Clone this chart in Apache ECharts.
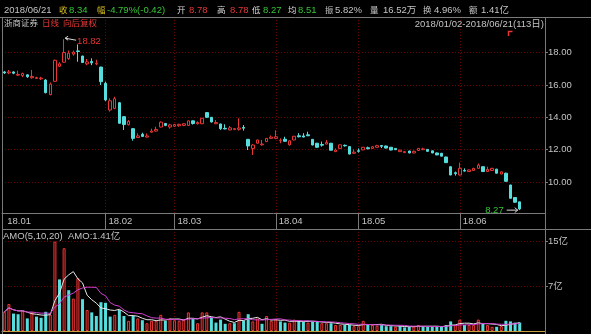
<!DOCTYPE html>
<html><head><meta charset="utf-8">
<script src="https://cdn.jsdelivr.net/npm/echarts@6/dist/echarts.min.js"></script>
<style>html,body{margin:0;padding:0;background:#000;}#c{width:591px;height:334px;}</style>
</head><body><div id="c"></div>
<script>
// ---- data ----
const dates = [
'2018-01-02','2018-01-03','2018-01-04','2018-01-05','2018-01-08','2018-01-09','2018-01-10','2018-01-11','2018-01-12','2018-01-15','2018-01-16','2018-01-17','2018-01-18','2018-01-19','2018-01-22','2018-01-23','2018-01-24','2018-01-25','2018-01-26','2018-01-29','2018-01-30','2018-01-31',
'2018-02-01','2018-02-02','2018-02-05','2018-02-06','2018-02-07','2018-02-08','2018-02-09','2018-02-12','2018-02-13','2018-02-14','2018-02-22','2018-02-23','2018-02-26','2018-02-27','2018-02-28',
'2018-03-01','2018-03-02','2018-03-05','2018-03-06','2018-03-07','2018-03-08','2018-03-09','2018-03-12','2018-03-13','2018-03-14','2018-03-15','2018-03-16','2018-03-19','2018-03-20','2018-03-21','2018-03-22','2018-03-23','2018-03-26','2018-03-27','2018-03-28','2018-03-29','2018-03-30',
'2018-04-02','2018-04-03','2018-04-04','2018-04-09','2018-04-10','2018-04-11','2018-04-12','2018-04-13','2018-04-16','2018-04-17','2018-04-18','2018-04-19','2018-04-20','2018-04-23','2018-04-24','2018-04-25','2018-04-26','2018-04-27',
'2018-05-02','2018-05-03','2018-05-04','2018-05-07','2018-05-08','2018-05-09','2018-05-10','2018-05-11','2018-05-14','2018-05-15','2018-05-16','2018-05-17','2018-05-18','2018-05-21','2018-05-22','2018-05-23','2018-05-24','2018-05-25','2018-05-28','2018-05-29','2018-05-30','2018-05-31',
'2018-06-01','2018-06-04','2018-06-05','2018-06-06','2018-06-07','2018-06-08','2018-06-11','2018-06-12','2018-06-13','2018-06-14','2018-06-15','2018-06-19','2018-06-20','2018-06-21'];

const open = [
16.80,16.74,16.80,16.60,16.58,16.62,16.44,16.40,16.38,16.30,
15.40,16.22,17.15,17.40,17.62,17.90,18.10,17.78,17.30,17.45,
17.30,17.10,16.10,14.45,14.55,14.90,14.04,13.55,13.30,12.75,
12.95,12.78,13.08,13.15,13.40,13.62,13.40,13.45,13.48,13.50,
13.50,13.78,13.60,13.60,14.29,14.00,13.60,13.59,13.32,13.22,
13.24,13.26,13.37,12.64,12.08,12.40,12.30,12.50,12.70,12.70,
12.55,12.65,12.30,12.60,12.86,12.85,12.92,12.64,12.40,12.32,
12.35,12.40,11.88,12.08,12.27,12.19,11.78,11.94,11.99,12.12,
12.08,12.15,12.26,12.23,12.15,12.08,11.88,11.82,11.92,11.80,
11.95,12.00,12.02,11.93,11.80,11.78,11.55,10.95,10.58,10.44,
10.72,10.65,10.72,10.85,10.95,10.65,10.72,10.80,10.50,10.55,
9.82,9.05,8.78];
const close = [
16.74,16.80,16.72,16.65,16.70,16.50,16.52,16.45,16.42,15.52,
16.05,17.52,17.30,18.00,17.96,18.02,18.06,17.38,17.42,17.36,
17.34,16.20,15.07,15.02,15.15,13.63,13.55,13.75,12.70,12.85,
12.82,12.85,13.15,13.25,13.70,13.50,13.53,13.55,13.57,13.60,
13.78,13.62,13.68,13.94,14.00,13.71,13.68,13.30,13.28,13.35,
13.30,13.34,13.33,12.23,12.29,12.60,12.35,12.70,12.78,12.80,
12.56,12.52,12.55,12.83,12.80,12.78,12.86,12.29,12.15,12.28,
12.45,11.97,11.98,12.30,12.24,11.73,11.85,11.90,12.15,12.06,
12.18,12.25,12.21,12.10,11.98,12.00,11.97,11.88,11.80,11.90,
12.08,12.05,11.90,11.80,11.68,11.60,11.20,10.44,10.52,10.85,
10.68,10.75,10.85,11.05,10.65,10.78,10.85,10.55,10.63,10.05,
9.00,8.76,8.34];
const low = [
16.68,16.66,16.66,16.56,16.48,16.44,16.38,16.36,16.30,15.48,
15.36,16.18,17.10,17.38,17.55,17.80,17.43,17.35,17.22,17.22,
17.22,15.99,15.00,14.35,14.50,13.60,13.22,13.50,12.56,12.72,
12.78,12.75,13.05,13.11,13.38,13.45,13.30,13.40,13.42,13.45,
13.48,13.55,13.55,13.59,13.98,13.68,13.58,13.22,13.26,13.20,
13.22,13.18,13.18,11.98,11.67,12.38,12.25,12.48,12.66,12.65,
12.40,12.50,12.25,12.58,12.76,12.76,12.85,12.27,12.12,12.19,
12.33,11.95,11.86,12.06,12.19,11.71,11.76,11.82,11.97,12.02,
12.05,12.12,12.10,12.08,11.96,11.98,11.86,11.80,11.78,11.78,
11.93,11.98,11.88,11.78,11.66,11.58,11.18,10.42,10.40,10.40,
10.65,10.62,10.70,10.83,10.63,10.63,10.70,10.53,10.48,10.03,
8.98,8.72,8.27];
const high = [
16.86,16.92,16.84,16.88,16.76,16.65,16.92,16.50,16.50,16.35,
16.15,17.56,17.40,18.82,18.12,18.12,18.50,17.80,17.60,17.64,
17.55,17.12,16.20,15.17,15.27,14.95,14.06,13.83,13.32,13.01,
13.05,13.00,13.30,13.42,13.75,13.65,13.60,13.60,13.60,13.63,
13.80,13.80,13.75,13.96,14.32,14.02,13.83,13.60,13.57,13.46,
13.32,13.94,13.52,12.66,12.35,12.62,12.60,12.72,12.88,13.20,
12.70,12.80,12.58,12.85,13.02,13.02,13.11,12.66,12.42,12.50,
12.60,12.42,12.08,12.32,12.32,12.21,12.02,12.08,12.17,12.19,
12.22,12.30,12.28,12.25,12.17,12.10,12.00,11.92,11.94,11.95,
12.10,12.12,12.04,11.95,11.82,11.80,11.57,10.97,10.65,11.20,
10.85,10.78,10.88,11.15,10.97,10.95,10.88,10.82,10.66,10.58,
9.84,9.08,8.78];
// turnover amount, 亿元
const amount = [
3.2,4.5,2.9,2.8,3.4,2.1,3.2,2.4,2.2,3.2,
2.7,14.9,8.6,13.8,6.8,5.4,8.8,5.3,3.5,3.1,
2.5,4.8,4.7,2.4,2.7,3.5,2.5,1.7,2.5,2.1,
1.8,1.3,1.7,1.7,2.7,1.7,2.1,1.8,1.7,1.9,
3.1,2.1,1.3,3.1,3.1,2.3,1.4,1.9,1.2,1.3,
1.3,3.2,1.7,2.8,1.6,2.1,1.2,2.5,1.7,1.9,
1.6,1.4,1.4,1.9,1.7,1.6,1.4,1.6,1.6,1.3,
1.3,1.3,1.0,1.0,1.0,1.0,0.8,0.8,1.7,1.0,
1.0,0.9,1.0,0.8,0.8,0.7,0.8,0.6,0.7,0.8,
1.0,0.8,0.7,0.7,0.8,0.7,1.0,1.6,1.0,1.9,
1.0,1.0,1.0,1.9,1.2,1.0,0.7,0.7,0.8,1.7,
1.6,1.4,1.41];
const prevClose0 = 16.70;          // close before the first day
const priceTicks = [10, 12, 14, 16, 18];
const amoTicks = [7.5, 15];
const amoPeriods = [5, 10];
const stockName = '浙商证券';
const avgPrice = '8.51', volText = '16.52万', turnText = '4.96%';

// ---- styles ----
const FONT = "'Liberation Sans','Noto Sans CJK SC',sans-serif";
const FS = 9.5, FSC = 8.5;
const RED = '#e83636', CYAN = '#56dede', GRID = '#6e0000', FRAME = '#7a7a7a',
      TXT = '#c4c4c4', GREEN = '#36c436', YEL = '#d8c020', WHITE = '#d8d8d8';

const N = dates.length;
const isMonthStart = i => i > 0 && i < N && dates[i].slice(5,7) !== dates[i-1].slice(5,7);
const isLabel = i => i === 0 || isMonthStart(i);
const kData = dates.map((d,i) => [open[i], close[i], low[i], high[i]]);
const upVol = dates.map((d,i) => close[i] >= (i === 0 ? prevClose0 : close[i-1]));
function ma(n){
  return amount.map((v,i) => { const s = Math.max(0, i-n+1); let t = 0;
    for (let k = s; k <= i; k++) t += amount[k]; return +(t/(i-s+1)).toFixed(3); });
}

const chart = echarts.init(document.getElementById('c'), null, {renderer:'canvas'});
const gridLine = {show:true, lineStyle:{color:GRID, type:[1,2], width:1}};
const xCommon = {type:'category', data:dates, boundaryGap:true, min:0, max:N+4};

chart.setOption({
  backgroundColor:'#000',
  animation:false,
  grid:[
    {left:2, right:46, top:17, bottom:121, outerBoundsMode:'none', containLabel:false},
    {left:2, right:46, top:229, bottom:3, outerBoundsMode:'none', containLabel:false}
  ],
  xAxis:[
    Object.assign({}, xCommon, {gridIndex:0,
      axisLine:{show:true, lineStyle:{color:FRAME}},
      axisTick:{show:true, interval:(i)=>isMonthStart(i), alignWithLabel:true, length:16, lineStyle:{color:FRAME}},
      axisLabel:{show:true, interval:(i)=>isLabel(i), formatter:v=>v.slice(2,4)+'.'+v.slice(5,7),
        color:TXT, fontSize:FS, fontFamily:FONT, align:'left', padding:[0,0,0,3], margin:4},
      splitLine:Object.assign({interval:(i)=>isMonthStart(i), alignWithLabel:true}, gridLine)}),
    Object.assign({}, xCommon, {gridIndex:1,
      axisLine:{show:true, lineStyle:{color:'#c8a040'}},
      axisTick:{show:false}, axisLabel:{show:false},
      splitLine:Object.assign({interval:(i)=>isMonthStart(i), alignWithLabel:true}, gridLine)})
  ],
  yAxis:[
    {type:'value', gridIndex:0, position:'right', min:8.093, max:20.191, scale:true,
      axisLine:{show:false},
      axisTick:{show:true, length:3, customValues:priceTicks, lineStyle:{color:FRAME}},
      axisLabel:{customValues:priceTicks, formatter:v=>v.toFixed(2), color:TXT, fontSize:FS, fontFamily:FONT, margin:3},
      splitLine:gridLine},
    {type:'value', gridIndex:1, position:'right', min:0, max:17,
      axisLine:{show:false},
      axisTick:{show:true, length:3, customValues:amoTicks, lineStyle:{color:FRAME}},
      axisLabel:{customValues:amoTicks, formatter:v=>Math.floor(v)+'亿', color:TXT, fontSize:FS, fontFamily:FONT, margin:3},
      splitLine:gridLine}
  ],
  series:[
    {type:'candlestick', xAxisIndex:0, yAxisIndex:0, data:kData, barWidth:3,
      itemStyle:{color:'#000', color0:CYAN, borderColor:RED, borderColor0:CYAN, borderWidth:1}},
    {type:'bar', xAxisIndex:1, yAxisIndex:1, barWidth:3,
      data:amount.map((v,i)=>({value:v, itemStyle: upVol[i]
        ? {color:'#3a0000', borderColor:RED, borderWidth:1}
        : {color:CYAN, borderWidth:0}}))},
    {type:'line', xAxisIndex:1, yAxisIndex:1, data:ma(amoPeriods[0]), showSymbol:false, symbol:'none',
      lineStyle:{color:'#e6e6e6', width:1}, z:3},
    {type:'line', xAxisIndex:1, yAxisIndex:1, data:ma(amoPeriods[1]), showSymbol:false, symbol:'none',
      lineStyle:{color:'#d040d0', width:1}, z:3}
  ]
});

// ---- annotations ----
function T(x, y, text, fill, align, fs){
  return {type:'text', x:x, y:y, z:100, silent:true,
    style:{text:text, fill:fill, fontSize:fs||FS, fontFamily:FONT,
      align:align||'left', verticalAlign:'middle', textAlign:align||'left', textVerticalAlign:'middle'}};
}
function C(x, y, text, fill){ return T(x, y, text, fill, 'left', FSC); }
function L(x1,y1,x2,y2,c,w){ return {type:'line', z:100, silent:true, shape:{x1,y1,x2,y2}, style:{stroke:c, lineWidth:w||1}}; }
function P(pts,c,w){ return {type:'polyline', z:100, silent:true, shape:{points:pts}, style:{stroke:c, lineWidth:w||1, fill:null}}; }

const last = N-1;
const chg = close[last]-close[last-1];
const pct = chg/close[last-1]*100;
const amp = (high[last]-low[last])/close[last-1]*100;
let iMax = 0, iMin = 0;
for (let i = 0; i < N; i++){ if (high[i] > high[iMax]) iMax = i; if (low[i] < low[iMin]) iMin = i; }
const pMax = chart.convertToPixel({xAxisIndex:0, yAxisIndex:0}, [dates[iMax], high[iMax]]);
const pMin = chart.convertToPixel({xAxisIndex:0, yAxisIndex:0}, [dates[iMin], low[iMin]]);
const d = dates[last].replace(/-/g,'/');
const y1 = 10.5, y2 = 24;
const g = [
  L(0,17.5,591,17.5,FRAME), L(2.5,17,2.5,334,FRAME), L(545.5,17,545.5,334,FRAME), L(2,229.5,591,229.5,FRAME),
  T(4,y1,d,TXT),
  C(59,y1,'收',YEL), T(69,y1,close[last].toFixed(2),GREEN),
  C(97,y1,'幅',YEL), T(107,y1,pct.toFixed(2)+'%('+chg.toFixed(2)+')',GREEN),
  C(177,y1,'开',WHITE), T(189,y1,open[last].toFixed(2),RED),
  C(217,y1,'高',WHITE), T(230,y1,high[last].toFixed(2),RED),
  C(252,y1,'低',WHITE), T(263,y1,low[last].toFixed(2),GREEN),
  C(288,y1,'均',WHITE), T(298,y1,avgPrice,GREEN),
  C(325,y1,'振',TXT), T(335,y1,amp.toFixed(2)+'%',TXT),
  C(370,y1,'量',TXT), T(383,y1,volText,TXT),
  C(423,y1,'换',TXT), T(434,y1,turnText,TXT),
  C(469,y1,'额',TXT), T(481,y1,amount[last].toFixed(2)+'亿',TXT),
  C(4,y2,stockName,TXT), C(42,y2,'日线',RED), C(63,y2,'向后复权',RED),
  T(544,y2,dates[0].replace(/-/g,'/')+'-'+d+'('+N+'日)',TXT,'right'),
  P([[508.5,36],[508.5,31.5],[512.5,31.5]],RED,1.5),
  T(3,236,'AMO('+[5,10,20].join(',')+')',TXT), T(68,236,'AMO:'+amount[last].toFixed(2)+'亿',TXT),
  // max marker
  L(pMax[0]+1,pMax[1]-1,pMax[0]+12,pMax[1]+1,WHITE),
  P([[pMax[0]+4,pMax[1]-3],[pMax[0]+1,pMax[1]-1],[pMax[0]+4,pMax[1]+1]],WHITE),
  T(pMax[0]+13,pMax[1]+2,high[iMax].toFixed(2),RED),
  // min marker
  L(pMin[0]-13,pMin[1],pMin[0]-2,pMin[1],WHITE),
  P([[pMin[0]-5,pMin[1]-2.5],[pMin[0]-2,pMin[1]],[pMin[0]-5,pMin[1]+2.5]],WHITE),
  T(pMin[0]-16,pMin[1],low[iMin].toFixed(2),GREEN,'right')
];
chart.setOption({graphic:{elements:g}});
</script>
</body></html>
